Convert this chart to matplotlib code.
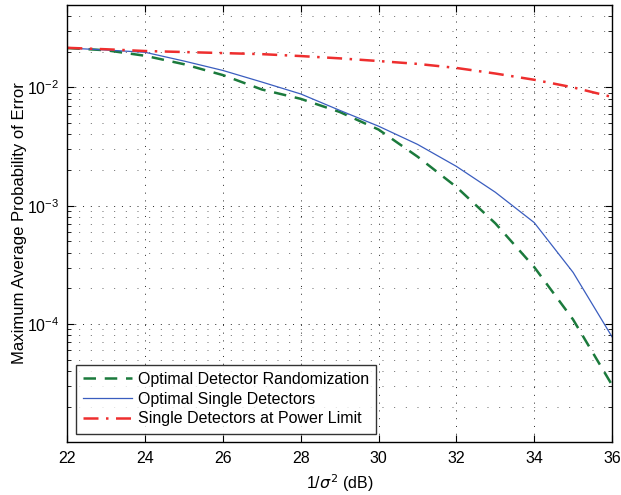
import numpy as np
import matplotlib
matplotlib.use("Agg")
import matplotlib.pyplot as plt
from matplotlib.ticker import LogLocator, NullFormatter, FixedLocator

plt.rcParams['font.family'] = ['Liberation Sans', 'DejaVu Sans']

# 1/sigma^2 (dB)
snr_db = [22, 23, 24, 25, 26, 27, 28, 29, 30, 31, 32, 33, 34, 35, 36]

# 最適検出器ランダム化
p_random = [0.0215, 0.0206, 0.0185, 0.0157, 0.0127, 0.0096, 0.0080, 0.0062,
            0.0044, 0.0026, 0.00144, 0.00071, 0.000303, 0.000109, 0.0000305]
# 最適単一検出器
p_single = [0.0215, 0.0207, 0.0198, 0.0167, 0.0139, 0.0111, 0.0088, 0.0064,
            0.0047, 0.0033, 0.00215, 0.0013, 0.00072, 0.000273, 0.000078]
# 電力制限での単一検出器
p_limit = [0.0216, 0.0210, 0.0203, 0.0199, 0.0195, 0.0191, 0.0184, 0.0176,
           0.0167, 0.0158, 0.0146, 0.0131, 0.0116, 0.0100, 0.0083]

labels = ['Optimal Detector Randomization', 'Optimal Single Detectors',
          'Single Detectors at Power Limit']

FS = 11.5

fig = plt.figure(figsize=(6.21, 4.95), dpi=100)
ax = fig.add_axes([0.1084, 0.1065, 0.8771, 0.884])

ax.plot(snr_db, p_random, color='#1b7a3c', lw=1.8, ls=(0, (5, 3.5)), label=labels[0])
ax.plot(snr_db, p_single, color='#3a5dbf', lw=0.9, ls='-', label=labels[1])
ax.plot(snr_db, p_limit, color='#ee2e2e', lw=1.8, ls=(0, (6, 3, 1, 3)), label=labels[2])

ax.set_yscale('log')
ax.set_xlim(22, 36)
ax.set_ylim(1e-5, 5e-2)
ax.set_xticks(np.arange(22, 37, 2))
ax.yaxis.set_major_locator(FixedLocator([1e-4, 1e-3, 1e-2]))
ax.yaxis.set_minor_locator(LogLocator(base=10, subs=np.arange(2, 10)))
ax.yaxis.set_minor_formatter(NullFormatter())

# MATLAB風の点線グリッド
ax.grid(True, which='major', ls=(0, (1, 7)), color='#222222', lw=0.7)
ax.grid(True, which='minor', axis='y', ls=(0, (1, 11)), color='#666666', lw=0.7)

ax.tick_params(which='both', direction='in', top=True, right=True, labelsize=FS)
ax.tick_params(which='major', length=5, width=0.8, pad=6)
ax.tick_params(which='minor', length=3, width=0.6)
for s in ax.spines.values():
    s.set_linewidth(1.0)

ax.set_xlabel(r'1/$\sigma^2$ (dB)', fontsize=FS, labelpad=5)
ax.set_ylabel('Maximum Average Probability of Error', fontsize=12)
ax.yaxis.set_label_coords(-0.074, 0.5)

leg = ax.legend(loc='lower left', fontsize=FS, frameon=True, fancybox=False,
                edgecolor='black', handlelength=3.05, borderaxespad=0.54,
                labelspacing=0.3, borderpad=0.45, handletextpad=0.38)
leg.get_frame().set_linewidth(1.0)

fig.savefig('out.png', dpi=100)
